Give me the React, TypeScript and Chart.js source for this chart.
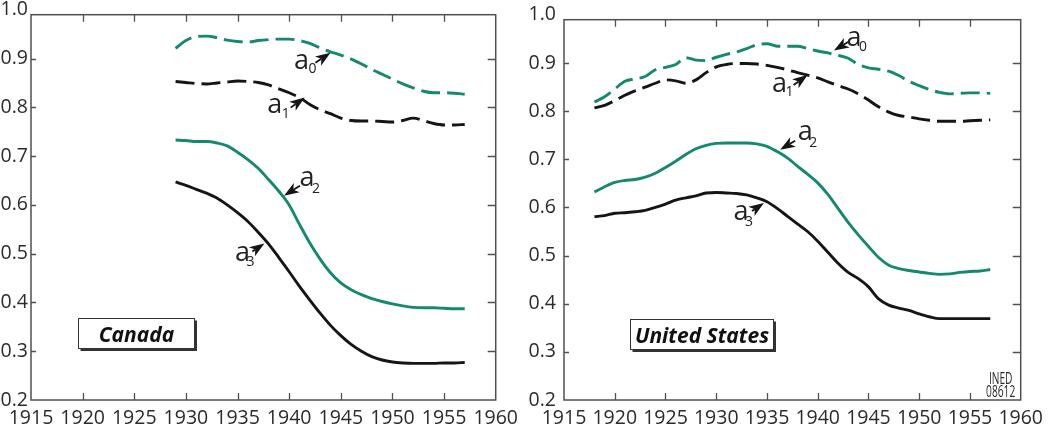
import React, { useEffect, useRef } from "react";
import { Chart, registerables } from "chart.js";

Chart.register(...registerables);

// ---------- data ----------
const X_TICK_MIN = 1915;
const X_TICK_MAX = 1960;
const Y_TICKS = [0.2, 0.3, 0.4, 0.5, 0.6, 0.7, 0.8, 0.9, 1.0];

const CANADA_YEARS = [
  1929, 1930, 1931, 1932, 1933, 1934, 1935, 1936, 1937, 1938, 1939, 1940, 1941, 1942, 1943,
  1944, 1945, 1946, 1947, 1948, 1949, 1950, 1951, 1952, 1953, 1954, 1955, 1956, 1957,
];
const CANADA_A0 = [
  0.921, 0.937, 0.945, 0.946, 0.943, 0.938, 0.935, 0.934, 0.937, 0.939, 0.94, 0.94, 0.937, 0.931, 0.922,
  0.914, 0.907, 0.899, 0.889, 0.878, 0.868, 0.858, 0.848, 0.84, 0.833, 0.83, 0.83, 0.829, 0.827,
];
const CANADA_A1 = [
  0.853, 0.851, 0.849, 0.848, 0.85, 0.852, 0.854, 0.853, 0.851, 0.846, 0.838, 0.83, 0.82, 0.806, 0.795,
  0.787, 0.778, 0.773, 0.772, 0.772, 0.771, 0.77, 0.773, 0.778, 0.773, 0.767, 0.764, 0.764, 0.765,
];
const CANADA_A2 = [
  0.733, 0.732, 0.73, 0.73, 0.727, 0.721, 0.708, 0.693, 0.675, 0.652, 0.628, 0.6, 0.56, 0.522, 0.489,
  0.461, 0.44, 0.426, 0.416, 0.408, 0.402, 0.397, 0.393, 0.39, 0.389, 0.389, 0.388, 0.387, 0.387,
];
const CANADA_A3 = [
  0.647, 0.64, 0.632, 0.624, 0.614, 0.6, 0.584, 0.566, 0.544, 0.52, 0.492, 0.463, 0.433, 0.405, 0.378,
  0.353, 0.332, 0.314, 0.3, 0.289, 0.282, 0.278, 0.276, 0.275, 0.275, 0.275, 0.276, 0.276, 0.277,
];

const US_YEARS = [
  1918, 1919, 1920, 1921, 1922, 1923, 1924, 1925, 1926, 1927, 1928, 1929, 1930, 1931, 1932, 1933,
  1934, 1935, 1936, 1937, 1938, 1939, 1940, 1941, 1942, 1943, 1944, 1945, 1946, 1947, 1948, 1949,
  1950, 1951, 1952, 1953, 1954, 1955, 1956, 1957,
];
const US_A0 = [
  0.819, 0.83, 0.846, 0.862, 0.867, 0.872, 0.886, 0.891, 0.897, 0.911, 0.906, 0.905, 0.912, 0.918, 0.923, 0.93,
  0.938, 0.94, 0.935, 0.935, 0.935, 0.93, 0.925, 0.921, 0.916, 0.91, 0.897, 0.89, 0.887, 0.883, 0.874, 0.862,
  0.853, 0.845, 0.839, 0.836, 0.837, 0.838, 0.838, 0.837,
];
const US_A1 = [
  0.807, 0.812, 0.822, 0.833, 0.842, 0.85, 0.858, 0.865, 0.863, 0.858, 0.865, 0.88, 0.892, 0.897, 0.899, 0.899,
  0.898, 0.895, 0.891, 0.886, 0.88, 0.875, 0.869, 0.861, 0.853, 0.846, 0.836, 0.823, 0.809, 0.798, 0.791, 0.788,
  0.784, 0.781, 0.779, 0.779, 0.779, 0.78, 0.781, 0.782,
];
const US_A2 = [
  0.632, 0.643, 0.652, 0.656, 0.658, 0.663, 0.671, 0.683, 0.696, 0.71, 0.722, 0.729, 0.733, 0.734, 0.734, 0.734,
  0.732, 0.727, 0.716, 0.703, 0.686, 0.669, 0.651, 0.627, 0.598, 0.569, 0.543, 0.519, 0.496, 0.48, 0.473, 0.469,
  0.466, 0.463, 0.461, 0.462, 0.465, 0.467, 0.468, 0.471,
];
const US_A3 = [
  0.581, 0.583, 0.588, 0.589, 0.591, 0.594, 0.6, 0.607, 0.615, 0.62, 0.624, 0.63, 0.631, 0.63, 0.629, 0.626,
  0.62, 0.612, 0.598, 0.582, 0.566, 0.55, 0.53, 0.507, 0.484, 0.465, 0.452, 0.435, 0.41, 0.397, 0.391, 0.386,
  0.379, 0.373, 0.369, 0.369, 0.369, 0.369, 0.369, 0.369,
];

// ---------- styles ----------
const GREEN = "#138a6e";
const BLACK = "#151515";
const FRAME = "#505050";
const TEXT = "#2b2b2b";
const FONT = '"Open Sans", "Noto Sans", sans-serif';

type Ann = { sub: string; tip: [number, number]; tail: [number, number]; a: [number, number]; s: [number, number] };

const CANADA_ANN: Ann[] = [
  { sub: "0", tip: [1944.0, 0.912], tail: [-15, 10], a: [-29, 9], s: [-18, 15] },
  { sub: "1", tip: [1941.5, 0.82], tail: [-14, 10], a: [-30, 8], s: [-19, 15] },
  { sub: "2", tip: [1939.5, 0.619], tail: [16, -10], a: [23, -17], s: [32, -8] },
  { sub: "3", tip: [1937.6, 0.521], tail: [-12, 8], a: [-22, 10], s: [-14, 18] },
];
const US_ANN: Ann[] = [
  { sub: "0", tip: [1941.6, 0.926], tail: [15, -9], a: [20, -12], s: [29, -5] },
  { sub: "1", tip: [1939.0, 0.875], tail: [-14, 10], a: [-28, 10], s: [-18, 16] },
  { sub: "2", tip: [1936.3, 0.72], tail: [15, -9], a: [25, -17], s: [33, -8] },
  { sub: "3", tip: [1934.7, 0.609], tail: [-12, 8], a: [-23, 10], s: [-15, 18] },
];

type Panel = {
  years: number[];
  a0: number[];
  a1: number[];
  a2: number[];
  a3: number[];
  title: string;
  box: [number, number, number, number]; // x0, y0, x1, y1 in data units
  ann: Ann[];
  yAxisWidth: number;
  padRight: number;
  labelPad: number;
  ined: boolean;
};

function makePlugin(p: Panel) {
  return {
    id: "frame",
    afterDatasetsDraw(chart: any) {
      const { ctx, chartArea: a, scales } = chart;
      const xs = scales.x;
      const ys = scales.y;
      ctx.save();
      // frame
      ctx.strokeStyle = FRAME;
      ctx.lineWidth = 1.5;
      ctx.strokeRect(a.left, a.top, a.right - a.left, a.bottom - a.top);
      // ticks
      ctx.lineWidth = 1.3;
      ctx.beginPath();
      xs.ticks.forEach((t: any) => {
        if (t.value <= xs.min || t.value >= xs.max) return;
        const px = Math.round(xs.getPixelForValue(t.value)) + 0.5;
        ctx.moveTo(px, a.bottom);
        ctx.lineTo(px, a.bottom - 7);
        ctx.moveTo(px, a.top);
        ctx.lineTo(px, a.top + 7);
      });
      ys.ticks.forEach((t: any) => {
        if (t.value <= ys.min || t.value >= ys.max) return;
        const py = Math.round(ys.getPixelForValue(t.value)) + 0.5;
        ctx.moveTo(a.left, py);
        ctx.lineTo(a.left + 5, py);
        ctx.moveTo(a.right, py);
        ctx.lineTo(a.right - 8, py);
      });
      ctx.stroke();

      // annotations
      for (const an of p.ann) {
        const tx = xs.getPixelForValue(an.tip[0]);
        const ty = ys.getPixelForValue(an.tip[1]);
        const bx = tx + an.tail[0];
        const by = ty + an.tail[1];
        const ang = Math.atan2(ty - by, tx - bx);
        const c = Math.cos(ang);
        const s = Math.sin(ang);
        const back = 15;
        const hw = 5.5;
        const cx = tx - c * back;
        const cy = ty - s * back;
        const nx = tx - c * (back - 4);
        const ny = ty - s * (back - 4);
        ctx.fillStyle = BLACK;
        ctx.beginPath();
        ctx.moveTo(tx, ty);
        ctx.lineTo(cx + s * hw, cy - c * hw);
        ctx.lineTo(nx, ny);
        ctx.lineTo(cx - s * hw, cy + c * hw);
        ctx.closePath();
        ctx.fill();
        ctx.strokeStyle = BLACK;
        ctx.lineWidth = 1.8;
        ctx.beginPath();
        ctx.moveTo(nx, ny);
        ctx.lineTo(bx, by);
        ctx.stroke();
        ctx.fillStyle = "#222";
        ctx.textAlign = "center";
        ctx.textBaseline = "alphabetic";
        ctx.font = `27px ${FONT}`;
        ctx.fillText("a", tx + an.a[0], ty + an.a[1] + 7.3);
        ctx.font = `14px ${FONT}`;
        ctx.fillText(an.sub, tx + an.s[0], ty + an.s[1] + 5);
      }

      // title box
      const x0 = Math.round(xs.getPixelForValue(p.box[0])) + 0.5;
      const x1 = Math.round(xs.getPixelForValue(p.box[2])) + 0.5;
      const y0 = Math.round(ys.getPixelForValue(p.box[1])) + 0.5;
      const y1 = Math.round(ys.getPixelForValue(p.box[3])) + 0.5;
      ctx.fillStyle = "#ffffff";
      ctx.fillRect(x0, y0, x1 - x0, y1 - y0);
      ctx.strokeStyle = "#333";
      ctx.lineWidth = 1;
      ctx.strokeRect(x0, y0, x1 - x0, y1 - y0);
      ctx.fillStyle = "#333";
      ctx.fillRect(x1, y0 + 2, 2.5, y1 - y0 + 0.5);
      ctx.fillRect(x0 + 2, y1, x1 - x0 + 0.5, 2.5);
      ctx.fillStyle = "#111";
      ctx.font = `italic bold 21px ${FONT}`;
      ctx.textAlign = "center";
      ctx.textBaseline = "alphabetic";
      ctx.fillText(p.title, (x0 + x1) / 2, (y0 + y1) / 2 + 8);

      if (p.ined) {
        ctx.fillStyle = TEXT;
        ctx.font = `17px ${FONT}`;
        ctx.textAlign = "center";
        const cx = a.right - 20;
        ctx.save();
        ctx.translate(cx, 0);
        ctx.scale(0.6, 1);
        ctx.fillText("INED", 0, 383.5);
        ctx.fillText("08612", 0, 397);
        ctx.restore();
      }
      ctx.restore();
    },
  };
}

function buildChart(canvas: HTMLCanvasElement, p: Panel) {
  const series = [
    { values: p.a0, color: GREEN, dashed: true },
    { values: p.a1, color: BLACK, dashed: true },
    { values: p.a2, color: GREEN, dashed: false },
    { values: p.a3, color: BLACK, dashed: false },
  ];
  return new Chart(canvas, {
    type: "line",
    data: {
      datasets: series.map((s) => ({
        data: p.years.map((y, i) => ({ x: y, y: s.values[i] })),
        borderColor: s.color,
        borderWidth: 2.9,
        borderDash: s.dashed ? [19, 7] : [],
        borderCapStyle: "butt",
        pointRadius: 0,
        fill: false,
        cubicInterpolationMode: "monotone",
      })),
    },
    options: {
      responsive: false,
      animation: false,
      devicePixelRatio: 1,
      layout: { padding: { left: 0, right: p.padRight, top: 10, bottom: 0 } },
      plugins: { legend: { display: false }, tooltip: { enabled: false } },
      scales: {
        x: {
          type: "linear",
          min: X_TICK_MIN,
          max: X_TICK_MAX,
          grid: { display: false, drawTicks: false },
          border: { display: false },
          ticks: {
            stepSize: 5,
            autoSkip: false,
            maxRotation: 0,
            padding: 7,
            color: TEXT,
            font: { size: 19.5, family: FONT },
            callback: (v: any) => String(v),
          },
          afterFit: (s: any) => {
            s.height = 26;
          },
        },
        y: {
          type: "linear",
          min: 0.2,
          max: 0.99,
          grid: { display: false, drawTicks: false },
          border: { display: false },
          afterBuildTicks: (s: any) => {
            s.ticks = Y_TICKS.map((v) => ({ value: v }));
          },
          ticks: {
            padding: p.labelPad,
            color: TEXT,
            font: { size: 19.5, family: FONT },
            callback: (v: any) => Number(v).toFixed(1),
          },
          afterFit: (s: any) => {
            s.width = p.yAxisWidth;
          },
        },
      },
    },
    plugins: [makePlugin(p)],
  } as any);
}

const CANADA: Panel = {
  years: CANADA_YEARS,
  a0: CANADA_A0,
  a1: CANADA_A1,
  a2: CANADA_A2,
  a3: CANADA_A3,
  title: "Canada",
  box: [1919.55, 0.369, 1930.8, 0.306],
  ann: CANADA_ANN,
  yAxisWidth: 31,
  padRight: 28,
  labelPad: 3,
  ined: false,
};

const US: Panel = {
  years: US_YEARS,
  a0: US_A0,
  a1: US_A1,
  a2: US_A2,
  a3: US_A3,
  title: "United States",
  box: [1921.5, 0.369, 1935.6, 0.306],
  ann: US_ANN,
  yAxisWidth: 39,
  padRight: 19,
  labelPad: 8,
  ined: true,
};

function PanelChart({ panel, left }: { panel: Panel; left: number }) {
  const ref = useRef<HTMLCanvasElement>(null);
  useEffect(() => {
    if (!ref.current) return;
    const c = buildChart(ref.current, panel);
    return () => c.destroy();
  }, [panel]);
  return (
    <canvas
      ref={ref}
      width={525}
      height={426}
      style={{ position: "absolute", left, top: 0, width: 525, height: 426 }}
    />
  );
}

export default function App() {
  return (
    <div
      style={{
        position: "fixed",
        left: 0,
        top: 0,
        width: 1050,
        height: 426,
        background: "#ffffff",
        overflow: "hidden",
      }}
    >
      <PanelChart panel={CANADA} left={0} />
      <PanelChart panel={US} left={525} />
    </div>
  );
}
